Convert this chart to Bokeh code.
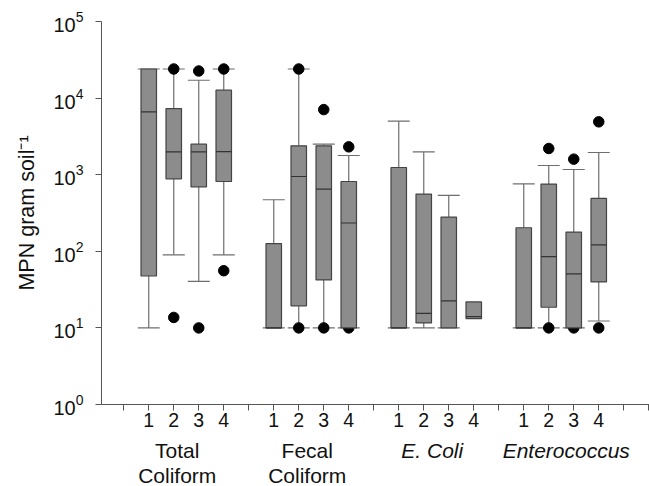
from bokeh.plotting import figure
from bokeh.models import Range1d, FixedTicker
from bokeh.layouts import column
from bokeh.core.properties import value
from bokeh.embed import file_html
from bokeh.resources import INLINE

nan = float("nan")

# x positions of the 16 boxes (4 groups x 4 sites), blank slots between groups
positions = [1, 2, 3, 4, 6, 7, 8, 9, 11, 12, 13, 14, 16, 17, 18, 19]
site_labels = ["1", "2", "3", "4"] * 4

lower = [10, 90, 40.5, 90,    10, 10, 10, 10,      10, 10, 10, nan,      10, 10, 10, 12.3]
q1 = [47.6, 884, 695, 815,    10, 19.4, 42.3, 10,  10, 11.6, 10, 13.2,   10, 18.6, 10, 39.8]
median = [6600, 1990, 1990, 2000, 10, 948, 649, 234, 10, 15.5, 22.5, 14, 10, 85, 50.6, 121]
q3 = [24000, 7300, 2500, 12700, 126, 2380, 2380, 815, 1242, 558, 280, 21.8, 203, 754, 178, 490]
upper = [24000, 24000, 17100, 24000, 471, 24000, 2500, 1780, 5000, 1990, 536, nan, 761, 1318, 1170, 1950]

out_x = [2, 2, 3, 3, 4, 4, 7, 7, 8, 8, 9, 9, 17, 17, 18, 18, 19, 19]
out_y = [24000, 13.7, 22600, 10, 24000, 55.8, 24000, 10, 7080, 10, 2310, 10,
         2200, 10, 1596, 10, 4900, 10]

groups = ["Total\nColiform", "Fecal\nColiform", "E. Coli", "Enterococcus"]
group_centers = [2.5, 7.5, 12.5, 17.5]
group_styles = ["normal", "normal", "italic", "italic"]
group_dx = [-9, -4, -4, 5]

FONT = "Liberation Sans"
BOX_W = 0.62
CAP_W = 0.88
XR = (-0.89, 21.03)

p = figure(width=649, height=438, y_axis_type="log",
           x_range=Range1d(*XR), y_range=Range1d(1, 1e5),
           output_backend="svg", toolbar_location=None,
           min_border_left=101, min_border_right=0, min_border_top=21,
           min_border_bottom=34)
p.outline_line_color = None
p.grid.visible = False
p.background_fill_color = "white"
p.border_fill_color = "white"

WC = "#6e6e6e"
# whiskers
p.segment(x0=positions, y0=q3, x1=positions, y1=upper, line_color=WC, line_width=1.2)
p.segment(x0=positions, y0=lower, x1=positions, y1=q1, line_color=WC, line_width=1.2)
# caps
p.segment(x0=[x - CAP_W / 2 for x in positions], y0=upper,
          x1=[x + CAP_W / 2 for x in positions], y1=upper, line_color=WC, line_width=1.2)
p.segment(x0=[x - CAP_W / 2 for x in positions], y0=lower,
          x1=[x + CAP_W / 2 for x in positions], y1=lower, line_color=WC, line_width=1.2)
# outliers
p.scatter(x=out_x, y=out_y, size=10.5, marker="circle", fill_color="#000000", line_color="#000000")
# boxes
p.vbar(x=positions, width=BOX_W, bottom=q1, top=q3, fill_color="#8c8c8c",
       line_color="#444444", line_width=1.2)
# medians
p.segment(x0=[x - BOX_W / 2 for x in positions], y0=median,
          x1=[x + BOX_W / 2 for x in positions], y1=median, line_color="#333333", line_width=1.2)

# axes
xa = p.xaxis[0]
xa.ticker = FixedTicker(ticks=list(range(0, 22)))
overrides = {t: "" for t in range(0, 22)}
for x, s in zip(positions, site_labels):
    overrides[x] = s
xa.major_label_overrides = overrides
xa.minor_tick_line_color = None

for ax in (p.xaxis[0], p.yaxis[0]):
    ax.axis_line_color = "#555555"
    ax.major_tick_line_color = "#555555"
    ax.major_tick_out = 6
    ax.major_tick_in = 0
    ax.major_label_text_font = FONT
    ax.major_label_text_color = "#111111"
xa.major_label_text_font_size = "19.5px"
xa.major_label_standoff = 2

ya = p.yaxis[0]
ya.major_label_text_font_size = "20px"
ya.minor_tick_line_color = None
ya.major_label_standoff = 12
ya.axis_label = "MPN gram soil\u207b\u00b9"
ya.axis_label_text_font = FONT
ya.axis_label_text_font_size = "21.5px"
ya.axis_label_text_font_style = "normal"
ya.axis_label_text_color = "#111111"
ya.axis_label_standoff = 11

# strip of group names below the axis, sharing the x range
q = figure(width=649, height=48, x_range=p.x_range, y_range=Range1d(0, 48),
           output_backend="svg", toolbar_location=None,
           min_border_left=101, min_border_right=0, min_border_top=0, min_border_bottom=0)
q.axis.visible = False
q.grid.visible = False
q.outline_line_color = None
q.background_fill_color = "white"
q.border_fill_color = "white"
for name, cx, st, dx in zip(groups, group_centers, group_styles, group_dx):
    q.text(x=[cx], y=[48], text=[name], x_offset=dx,
           text_align="center", text_baseline="top",
           text_font=value(FONT), text_font_size="21px", text_font_style=st,
           text_color="#111111", text_line_height=1.1)

layout = column(p, q, spacing=0)
open("out.html", "w").write(file_html(layout, INLINE))
